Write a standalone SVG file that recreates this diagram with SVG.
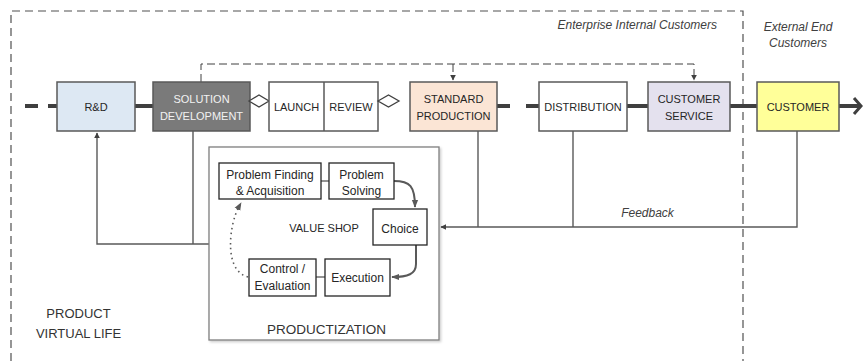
<svg xmlns="http://www.w3.org/2000/svg" width="863" height="361" viewBox="0 0 863 361">
<defs>
<style>
text{font-family:"Liberation Sans",Arial,sans-serif;fill:#262626}
.box{stroke:#595959;stroke-width:1.5}
.ib{fill:#fff;stroke:#262626;stroke-width:1.3}
.t11{font-size:11px;text-anchor:middle}
.t12{font-size:12px;text-anchor:middle}
.it{font-size:12px;font-style:italic;fill:#404040}
.main{stroke:#3f3f3f;stroke-width:4;fill:none}
.fb{stroke:#595959;stroke-width:1.4;fill:none}
.dash{stroke:#404040;stroke-width:1;fill:none;stroke-dasharray:8,4}
.curve{stroke:#595959;stroke-width:2;fill:none}
</style>
<marker id="ah" viewBox="0 0 10 10" refX="9" refY="5" markerWidth="6" markerHeight="6" markerUnits="userSpaceOnUse" orient="auto">
<path d="M0,0 L10,5 L0,10 z" fill="#404040"/>
</marker>
<marker id="ah2" viewBox="0 0 10 10" refX="9" refY="5" markerWidth="8" markerHeight="8" markerUnits="userSpaceOnUse" orient="auto">
<path d="M0,1 L10,5 L0,9 z" fill="#595959"/>
</marker>
<filter id="sh" x="-5%" y="-5%" width="110%" height="110%">
<feDropShadow dx="1.5" dy="1.5" stdDeviation="0.8" flood-color="#000" flood-opacity="0.2"/>
</filter>
</defs>
<rect width="863" height="361" fill="#fff"/>

<!-- boundary -->
<g id="boundary">
<path d="M11,361 L11,11 L743,11 L743,361" fill="none" stroke="#505050" stroke-width="1.2" stroke-dasharray="8,5"/>
<text class="it" x="717" y="29" text-anchor="end">Enterprise Internal Customers</text>
<text class="it" x="798" y="31" text-anchor="middle">External End</text>
<text class="it" x="798" y="47" text-anchor="middle">Customers</text>
</g>

<!-- connectors -->
<g id="connectors">
<!-- main value line -->
<path class="main" d="M25,106 L38,106 M48,106 L57,106 M135,106 L153,106 M497,106 L510,106 M526,106 L539,106 M627,106 L648,106 M730,106 L757,106 M839,106 L860,106"/>
<path d="M854,98 L861,106 L854,114" fill="none" stroke="#3f3f3f" stroke-width="3"/>
<!-- dashed top connector -->
<path class="dash" d="M201,82 L201,64 L694,64 L694,80" marker-end="url(#ah)"/>
<path class="dash" d="M453,64 L453,80" marker-end="url(#ah)"/>
<!-- left feedback -->
<path class="fb" d="M209,244 L97,244 L97,133" marker-end="url(#ah)"/>
<path class="fb" d="M193,244 L193,127 L185,127" marker-end="url(#ah)"/>
<!-- right feedback -->
<path class="fb" d="M797,131 L797,227 L441,227" marker-end="url(#ah)"/>
<path class="fb" d="M478,131 L478,227"/>
<path class="fb" d="M573,131 L573,227"/>
<text class="it" x="647.5" y="216.5" text-anchor="middle">Feedback</text>
</g>

<!-- main nodes -->
<g id="rd"><rect class="box" x="57" y="82" width="78" height="49" fill="#dde8f3"/><text class="t11" x="96" y="110.5">R&amp;D</text></g>
<g id="solution-development"><rect class="box" x="153" y="82" width="97" height="49" fill="#7a7a7a"/><text class="t11" x="201.5" y="102.5" style="fill:#f2f2f2">SOLUTION</text><text class="t11" x="201.5" y="119.5" style="fill:#f2f2f2">DEVELOPMENT</text></g>
<g id="diamond1"><path d="M249,101 L259,95 L269,101 L259,107 z" fill="#fff" stroke="#404040" stroke-width="1.3"/></g>
<g id="launch-review"><rect class="box" x="269" y="82" width="109" height="49" fill="#fff"/><line x1="324" y1="82" x2="324" y2="131" stroke="#595959" stroke-width="1.5"/><text class="t11" x="296.5" y="110.5">LAUNCH</text><text class="t11" x="351" y="110.5">REVIEW</text></g>
<g id="diamond2"><path d="M378,101 L388.5,95 L399,101 L388.5,107 z" fill="#fff" stroke="#404040" stroke-width="1.3"/></g>
<g id="standard-production"><rect class="box" x="410" y="82" width="87" height="49" fill="#fbe5d5"/><text class="t11" x="453.5" y="102.5">STANDARD</text><text class="t11" x="453.5" y="119.5">PRODUCTION</text></g>
<g id="distribution"><rect class="box" x="539" y="82" width="88" height="49" fill="#fff"/><text class="t11" x="583" y="110.5">DISTRIBUTION</text></g>
<g id="customer-service"><rect class="box" x="648" y="82" width="82" height="49" fill="#e4e1ee"/><text class="t11" x="689" y="102.5">CUSTOMER</text><text class="t11" x="689" y="119.5">SERVICE</text></g>
<g id="customer"><rect class="box" x="757" y="82" width="82" height="49" fill="#ffff99"/><text class="t11" x="798" y="110.5">CUSTOMER</text></g>

<g id="product-virtual-life">
<text x="78.5" y="318" style="font-size:13px;text-anchor:middle;fill:#333">PRODUCT</text>
<text x="78.5" y="337.5" style="font-size:13px;text-anchor:middle;fill:#333">VIRTUAL LIFE</text>
</g>

<!-- productization container -->
<g id="productization">
<rect x="209" y="147" width="230" height="193" fill="#fff" stroke="#7f7f7f" stroke-width="1.3" filter="url(#sh)"/>
<text x="326.5" y="334" style="font-size:13.5px;text-anchor:middle;fill:#333">PRODUCTIZATION</text>
<text class="t11" x="324" y="232">VALUE SHOP</text>
</g>

<g id="value-shop-connectors">
<line x1="321" y1="181" x2="329" y2="181" stroke="#595959" stroke-width="1.3"/>
<line x1="316" y1="277" x2="325" y2="277" stroke="#595959" stroke-width="1.3"/>
<path class="curve" d="M394,181 C410,181 415,186 415,207" marker-end="url(#ah2)"/>
<path class="curve" d="M416,245 L416,264 C416,274 408,277 392,277" marker-end="url(#ah2)"/>
<path d="M248,277 C233,273 229,255 231,235 C233,218 237,210 241,203" fill="none" stroke="#595959" stroke-width="1.6" stroke-dasharray="1.5,3.5" marker-end="url(#ah2)"/>
</g>

<g id="problem-finding"><rect class="ib" x="219" y="163" width="102" height="36"/><text class="t12" x="270" y="179">Problem Finding</text><text class="t12" x="270" y="195">&amp; Acquisition</text></g>
<g id="problem-solving"><rect class="ib" x="329" y="163" width="65" height="36"/><text class="t12" x="361.5" y="179">Problem</text><text class="t12" x="361.5" y="195">Solving</text></g>
<g id="choice"><rect class="ib" x="373" y="209" width="54" height="36"/><text class="t12" x="400" y="232.5">Choice</text></g>
<g id="execution"><rect class="ib" x="325" y="259" width="65" height="37"/><text class="t12" x="357.5" y="282">Execution</text></g>
<g id="control-evaluation"><rect class="ib" x="249" y="259" width="67" height="37"/><text class="t12" x="282.5" y="272.5">Control /</text><text class="t12" x="282.5" y="290">Evaluation</text></g>
</svg>
